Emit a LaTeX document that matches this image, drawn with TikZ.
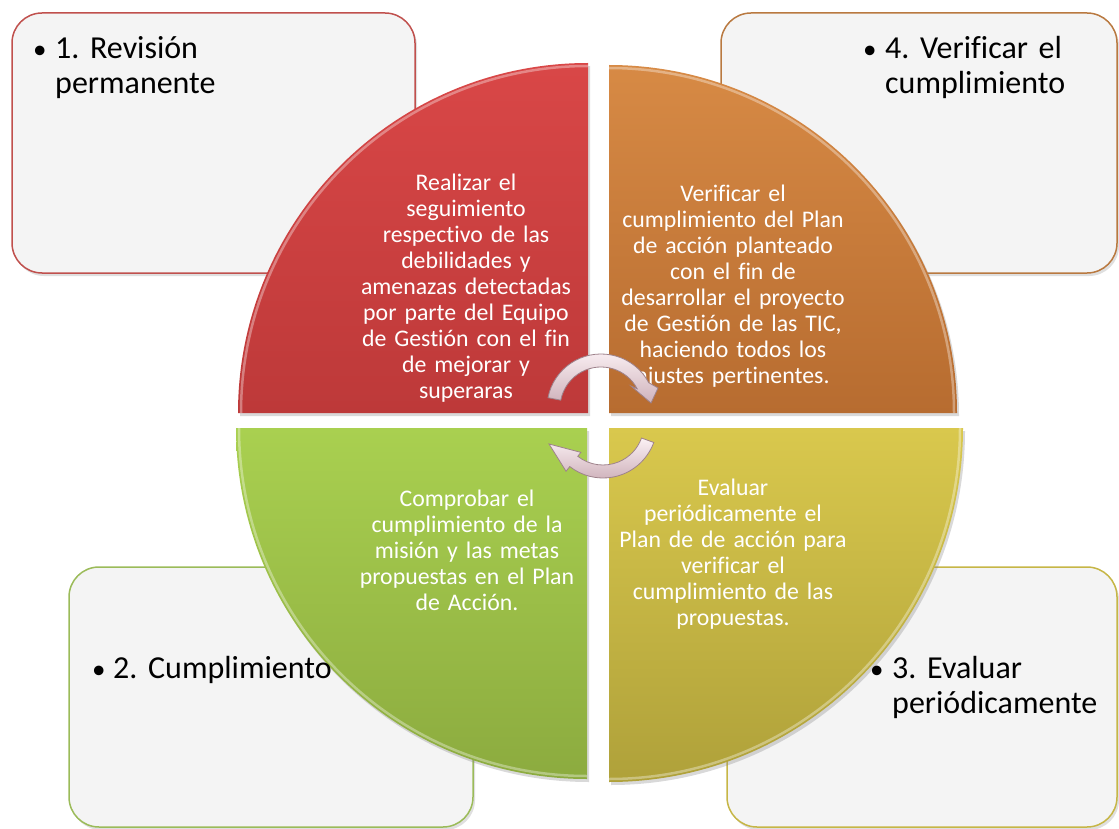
\documentclass[tikz,border=0pt]{standalone}
\usepackage{fontspec}
\setmainfont{Carlito}[Ligatures=NoCommon]
\usetikzlibrary{shadows}

\definecolor{boxfill}{HTML}{F4F4F4}
\definecolor{redline}{HTML}{C0504D}
\definecolor{orangeline}{HTML}{B97940}
\definecolor{greenline}{HTML}{9BBB59}
\definecolor{yellowline}{HTML}{C6B646}
\definecolor{redtop}{HTML}{D94747}
\definecolor{redbot}{HTML}{BD3939}
\definecolor{orangetop}{HTML}{D78A45}
\definecolor{orangebot}{HTML}{B76C30}
\definecolor{greentop}{HTML}{A9D050}
\definecolor{greenbot}{HTML}{8CAB3F}
\definecolor{yellowtop}{HTML}{D9C84D}
\definecolor{yellowbot}{HTML}{AFA13A}
\definecolor{cyctop}{HTML}{FBF1F4}
\definecolor{cycbot}{HTML}{CFB2BB}
\definecolor{cycedge}{HTML}{9E828B}

\newcommand{\bul}[1]{\makebox[#1][l]{\fontsize{27}{27}\selectfont\textbullet}}

\begin{document}
\frenchspacing
\begin{tikzpicture}[x=1pt, y=1pt,
    box/.style={line width=1.5pt, fill=boxfill, rounded corners=30pt,
        drop shadow={shadow xshift=2pt, shadow yshift=-3pt, opacity=.25}},
    quad/.style={drop shadow={shadow xshift=2pt, shadow yshift=-3pt, opacity=.3}},
    bevel/.style={draw=white, draw opacity=.35, line width=2.5pt},
    boxtext/.style={anchor=base west, inner sep=0pt, text width=250pt, align=left,
        font=\fontsize{32}{35}\selectfont},
    quadtext/.style={anchor=base, inner sep=0pt, text width=240pt, align=center,
        text=white, font=\fontsize{23.8}{26}\selectfont},
    cyc/.style={draw=cycedge, line width=0.8pt, top color=cyctop, bottom color=cycbot}]

    \useasboundingbox (0,0) rectangle (1119,-829);

    % corner boxes
    \path[box, draw=redline] (12,-13) rectangle (415,-273); % 1
    \path[box, draw=orangeline] (721,-13) rectangle (1117,-273); % 4
    \path[box, draw=greenline] (69,-567) rectangle (473,-827); % 2
    \path[box, draw=yellowline] (727,-567) rectangle (1117,-827); % 3

    % quarter circles
    \shade[quad, top color=redtop, bottom color=redbot]
        (588,-413) -- (238,-413) arc[start angle=180, end angle=90, radius=350] -- cycle;
    \shade[quad, top color=orangetop, bottom color=orangebot]
        (609,-413) -- (609,-65) arc[start angle=90, end angle=0, radius=348] -- cycle;
    \shade[quad, top color=greentop, bottom color=greenbot]
        (587,-428) -- (236,-428) arc[start angle=180, end angle=270, radius=351] -- cycle;
    \shade[quad, top color=yellowtop, bottom color=yellowbot]
        (609,-428) -- (963,-428) arc[start angle=0, end angle=-90, radius=354] -- cycle;
    \draw[bevel] (241,-413) arc[start angle=180, end angle=90, radius=347];
    \draw[bevel] (609,-68) arc[start angle=90, end angle=0, radius=345];
    \draw[bevel] (239,-428) arc[start angle=180, end angle=270, radius=348];
    \draw[bevel] (960,-428) arc[start angle=0, end angle=-90, radius=351];

    % box labels
    \node[boxtext] (lRev) at (33,-58.7)
        {\bul{22pt}1. Revisión\\\hspace*{22pt}permanente};
    \node[boxtext] (lVer) at (863,-58.5)
        {\bul{22pt}4. Verificar el\\\hspace*{22pt}cumplimiento};
    \node[boxtext] (lCum) at (92,-678)
        {\bul{21pt}2. Cumplimiento};
    \node[boxtext] (lEva) at (870,-678)
        {\bul{22pt}3. Evaluar\\\hspace*{22pt}periódicamente};

    % texts in the quarters
    \node[quadtext] (tRed) at (466,-190.7)
        {Realizar el\\ seguimiento\\ respectivo de las\\ debilidades y\\
         amenazas detectadas\\ por parte del Equipo\\ de Gestión con el fin\\
         de mejorar y\\ superaras};
    \node[quadtext] (tOrange) at (733,-201.7)
        {Verificar el\\ cumplimiento del Plan\\ de acción planteado\\ con el fin de\\
         desarrollar el proyecto\\ de Gestión de las TIC,\\ haciendo todos los\\
         ajustes pertinentes.};
    \node[quadtext] (tGreen) at (467,-506.7)
        {Comprobar el\\ cumplimiento de la\\ misión y las metas\\
         propuestas en el Plan\\ de Acción.};
    \node[quadtext] (tYellow) at (733,-495)
        {Evaluar\\ periódicamente el\\ Plan de de acción para\\ verificar el\\
         cumplimiento de las\\ propuestas.};

    % cycle arrows
    \begin{scope}[shift={(601,-408)}]
        \path[cyc] (169:54) arc[start angle=169, end angle=28, radius=54]
            -- (57,20) -- (50,5) -- (30,22) -- (28:41)
            arc[start angle=28, end angle=169, radius=41] -- cycle;
    \end{scope}
    \begin{scope}[shift={(603,-424)}]
        \path[cyc] (-20:54) arc[start angle=-20, end angle=-128, radius=54]
            -- (-128:60) -- (-54,-20) -- (-128:36) -- (-128:41)
            arc[start angle=-128, end angle=-20, radius=41] -- cycle;
    \end{scope}

\end{tikzpicture}
\end{document}
